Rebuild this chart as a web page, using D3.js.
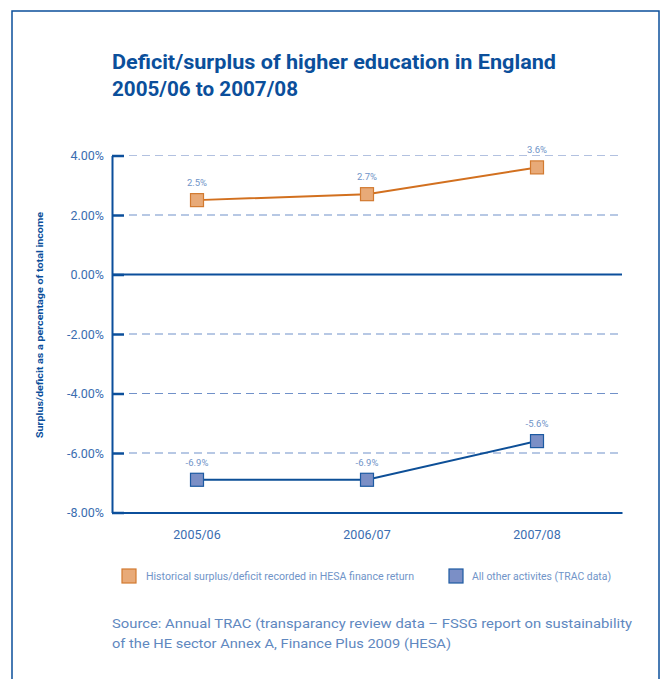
<!DOCTYPE html>
<html>
<head>
<meta charset="utf-8">
<script src="https://cdn.jsdelivr.net/npm/d3@7"></script>
<style>
  html, body { margin: 0; padding: 0; background: #fff; }
  svg { display: block; }
  text { font-family: Roboto, "Noto Sans", sans-serif; }
</style>
</head>
<body>
<div id="chart"></div>
<script>
// Academic years on the x axis
const years = ["2005/06", "2006/07", "2007/08"];
// Surplus/deficit as % of total income
const hesaValues = [2.5, 2.7, 3.6];
const tracValues = [-6.9, -6.9, -5.6];
// Y axis ticks
const yTicks = [4, 2, 0, -2, -4, -6, -8];
const seriesNames = [
  "Historical surplus/deficit recorded in HESA finance return",
  "All other activites (TRAC data)"
];

const W = 663, H = 679;
const navy = "#0b4f9b";
const tickText = "#3a6db0";
const labelBlue = "#7094c8";

// plain hyphen for negative numbers
const fmtLocale = d3.formatLocale({ decimal: ".", thousands: ",", grouping: [3], currency: ["", ""], minus: "-" });
const fmt2 = fmtLocale.format(".2f");
const fmt1 = fmtLocale.format(".1f");

const svg = d3.select("#chart").append("svg")
  .attr("width", W).attr("height", H);

// outer frame
svg.append("rect")
  .attr("x", 12).attr("y", 11)
  .attr("width", 647).attr("height", 700)
  .attr("fill", "none").attr("stroke", navy).attr("stroke-width", 1.5);

// title
const title = svg.append("text")
  .attr("x", 112).attr("y", 69)
  .attr("fill", navy).attr("font-weight", "bold").attr("font-size", 19.5);
title.append("tspan").attr("x", 112).attr("textLength", 444).attr("lengthAdjust", "spacingAndGlyphs")
  .text("Deficit/surplus of higher education in England");
title.append("tspan").attr("x", 112).attr("dy", 27).attr("textLength", 186).attr("lengthAdjust", "spacingAndGlyphs")
  .text("2005/06 to 2007/08");

const left = 112, right = 622;
const x = d3.scaleBand().domain(years).range([left, right]);
const y = d3.scaleLinear().domain([-8, 4]).range([512.5, 155.5]);
const xc = d => x(d) + x.bandwidth() / 2;

// dashed gridlines
svg.append("g").selectAll("line")
  .data(yTicks.filter(t => t !== 0 && t !== -8))
  .join("line")
  .attr("x1", 129).attr("x2", 623)
  .attr("y1", d => y(d)).attr("y2", d => y(d))
  .attr("stroke", d => d === 4 ? "#b2c1e0" : "#7191c9")
  .attr("stroke-width", 1.2)
  .attr("stroke-dasharray", "8,5");

// zero line
svg.append("line")
  .attr("x1", left).attr("x2", right)
  .attr("y1", y(0)).attr("y2", y(0))
  .attr("stroke", navy).attr("stroke-width", 2);

// y axis
const yAxis = d3.axisLeft(y).tickValues(yTicks).tickSize(0)
  .tickFormat(d => fmt2(d) + "%");
const gy = svg.append("g").attr("transform", `translate(${left},0)`).call(yAxis);
gy.select(".domain").attr("stroke", navy).attr("stroke-width", 2);
gy.selectAll("text").attr("x", -8).attr("dy", "0.35em")
  .attr("font-size", 12.5).attr("fill", tickText).attr("font-family", "Roboto, sans-serif");
// short tick stubs pointing inward
gy.selectAll(".tick").append("line")
  .attr("x1", 0).attr("x2", 12).attr("stroke", navy).attr("stroke-width", 2.5);

// x axis baseline
const xAxis = d3.axisBottom(x).tickSize(0);
const gx = svg.append("g").attr("transform", `translate(0,${y(-8)})`).call(xAxis);
gx.select(".domain").attr("stroke", navy).attr("stroke-width", 2);
gx.selectAll("text").attr("y", 18).attr("dy", "0.71em")
  .attr("font-size", 12.5).attr("fill", tickText).attr("font-family", "Roboto, sans-serif");

// y axis title
svg.append("text")
  .attr("transform", `translate(43,325) rotate(-90)`)
  .attr("text-anchor", "middle")
  .attr("font-size", 9.5).attr("font-weight", "bold").attr("fill", navy)
  .attr("textLength", 226).attr("lengthAdjust", "spacingAndGlyphs")
  .text("Surplus/deficit as a percentage of total income");

const series = [
  { values: hesaValues, line: "#d2701f", fill: "#e8aa78", stroke: "#d27a30" },
  { values: tracValues, line: "#0d4f97", fill: "#7b8fc6", stroke: "#1d5aa2" }
];

const line = d3.line().x((d, i) => xc(years[i])).y(d => y(d));
const sq = 13;

series.forEach(s => {
  svg.append("path").datum(s.values)
    .attr("d", line).attr("fill", "none")
    .attr("stroke", s.line).attr("stroke-width", 2);
  svg.append("g").selectAll("rect").data(s.values).join("rect")
    .attr("x", (d, i) => xc(years[i]) - sq / 2)
    .attr("y", d => y(d) - sq / 2)
    .attr("width", sq).attr("height", sq)
    .attr("fill", s.fill).attr("stroke", s.stroke).attr("stroke-width", 1.2);
  svg.append("g").selectAll("text").data(s.values).join("text")
    .attr("x", (d, i) => xc(years[i]))
    .attr("y", d => y(d) - 14)
    .attr("text-anchor", "middle")
    .attr("font-size", 9.5).attr("fill", labelBlue)
    .text(d => fmt1(d) + "%");
});

// legend
const legend = [
  { x: 122, text: seriesNames[0], len: 268, fill: "#e8aa78", stroke: "#d27a30" },
  { x: 449, text: seriesNames[1], len: 139, fill: "#7b8fc6", stroke: "#1d5aa2" }
];
const lg = svg.append("g").selectAll("g").data(legend).join("g")
  .attr("transform", d => `translate(${d.x},569)`);
lg.append("rect").attr("width", 14).attr("height", 14)
  .attr("fill", d => d.fill).attr("stroke", d => d.stroke).attr("stroke-width", 1.2);
lg.append("text").attr("x", d => d.x === 122 ? 24 : 23).attr("y", 7).attr("dy", "0.35em")
  .attr("font-size", 10).attr("fill", labelBlue)
  .attr("textLength", d => d.len).attr("lengthAdjust", "spacingAndGlyphs")
  .text(d => d.text);

// source note
const src = svg.append("text").attr("x", 112).attr("y", 628)
  .attr("font-size", 13.5).attr("fill", "#5f88c0");
src.append("tspan").attr("x", 112).attr("textLength", 520).attr("lengthAdjust", "spacingAndGlyphs")
  .text("Source:  Annual TRAC (transparancy review data \u2013 FSSG report on sustainability");
src.append("tspan").attr("x", 112).attr("dy", 20).attr("textLength", 339).attr("lengthAdjust", "spacingAndGlyphs")
  .text("of the HE sector Annex A, Finance Plus 2009 (HESA)");
</script>
</body>
</html>
